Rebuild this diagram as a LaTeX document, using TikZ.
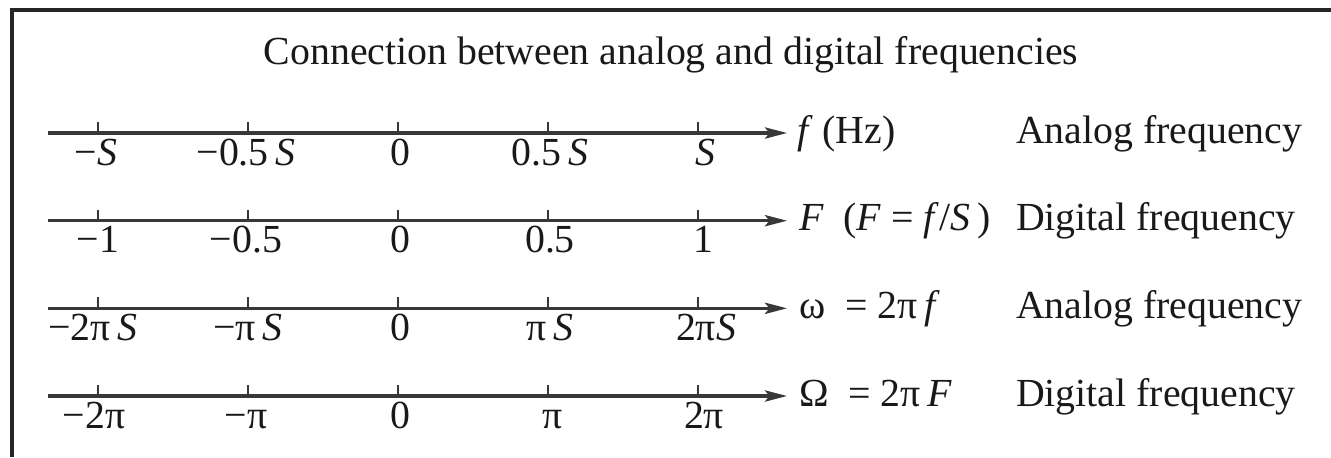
\documentclass[tikz,border=0pt]{standalone}
\usepackage{fontspec}
\setmainfont{Liberation Serif}
\usetikzlibrary{arrows.meta}
\begin{document}
\begin{tikzpicture}[x=0.5pt,y=-0.5pt,
  every node/.style={inner sep=0pt, outer sep=0pt, font=\fontsize{19.9}{23}\selectfont, text=black!90},
  axisline/.style={line width=1.6pt, draw=black!78, -{Stealth[length=11pt,width=5.6pt,inset=2.2pt]}},
  tickmark/.style={line width=1pt, draw=black!78},
  ticklabel/.style={anchor=base},
  unitlabel/.style={anchor=base west},
  kindlabel/.style={anchor=base west},
  frameline/.style={line width=2.2pt, draw=black!85}]
\useasboundingbox (0,0) rectangle (1331,457);
\fill[white] (0,0) rectangle (1331,457);
\draw[frameline] (12,457) -- (12,10) -- (1331,10);

\node[anchor=base] (title) at (671,64) {Connection between analog and digital frequencies};

\foreach \r/\y in {1/133,2/220.7,3/308.3,4/396} {
  \coordinate (s\r) at (48,\y);
  \coordinate (e\r) at (787,\y);
  \draw[axisline] (s\r) -- (e\r);
  \foreach \x in {98,248,398,548,698}
    \draw[tickmark] (\x,\y) -- (\x,\y-11);
}

% row 1
\node[ticklabel] (l11) at (96,165) {−\textit{S}};
\node[ticklabel] (l12) at (246,165) {−0.5\,\textit{S}};
\node[ticklabel] (l13) at (400,165) {0};
\node[ticklabel] (l14) at (550,165) {0.5\,\textit{S}};
\node[ticklabel] (l15) at (705,165) {\textit{S}};
\node[unitlabel] (u1) at (797,143) {\textit{f} (Hz)};
\node[kindlabel] (k1) at (1016,143) {Analog frequency};

% row 2
\node[ticklabel] (l21) at (98,252.7) {−1};
\node[ticklabel] (l22) at (246,252.7) {−0.5};
\node[ticklabel] (l23) at (400,252.7) {0};
\node[ticklabel] (l24) at (550,252.7) {0.5};
\node[ticklabel] (l25) at (703,252.7) {1};
\node[unitlabel] (u2) at (799,230.7) {\textit{F}\ \ (\textit{F} = \textit{f}/\textit{S}\,)};
\node[kindlabel] (k2) at (1016,230.7) {Digital frequency};

% row 3
\node[ticklabel] (l31) at (93,340.3) {−2π\,\textit{S}};
\node[ticklabel] (l32) at (248,340.3) {−π\,\textit{S}};
\node[ticklabel] (l33) at (400,340.3) {0};
\node[ticklabel] (l34) at (550,340.3) {π\,\textit{S}};
\node[ticklabel] (l35) at (706,340.3) {2π\textit{S}};
\node[unitlabel] (u3) at (799,318.3) {ω\ \ =\ 2π\,\textit{f}};
\node[kindlabel] (k3) at (1016,318.3) {Analog frequency};

% row 4
\node[ticklabel] (l41) at (94,428) {−2π};
\node[ticklabel] (l42) at (246,428) {−π};
\node[ticklabel] (l43) at (400,428) {0};
\node[ticklabel] (l44) at (553,428) {π};
\node[ticklabel] (l45) at (704,428) {2π};
\node[unitlabel] (u4) at (799,406) {Ω\ \ =\ 2π\,\textit{F}};
\node[kindlabel] (k4) at (1016,406) {Digital frequency};
\end{tikzpicture}
\end{document}
